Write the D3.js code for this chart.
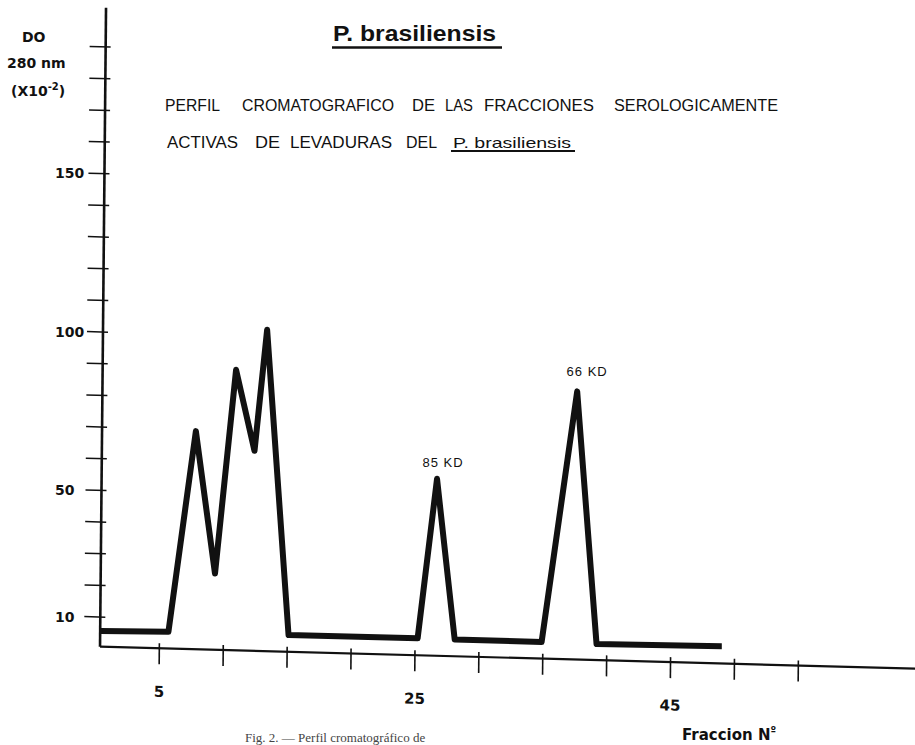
<!DOCTYPE html>
<html><head><meta charset="utf-8">
<script src="https://cdn.jsdelivr.net/npm/d3@7"></script>
<style>body{margin:0;background:#fff}svg{display:block}</style></head>
<body><svg id="c" width="915" height="745"></svg>
<script>
// ---- data ----
const fractions  = [0.4, 5.7, 7.7, 9.3, 10.8, 12.3, 13.2, 15.1, 25.2, 26.6, 28.1, 34.9, 37.5, 39.2, 49.0];
const absorbance = [5.6, 5.9, 69.5, 24.7, 89.2, 63.8, 102.1, 5.9, 6.0, 56.5, 5.9, 5.9, 85.3, 5.7, 6.1];
const xTicks = [5, 10, 15, 20, 25, 30, 35, 40, 45, 50, 55];
const xTickLabels = [5, 25, 45];
const yTicks = [10, 20, 30, 40, 50, 60, 70, 80, 90, 100, 110, 120, 130, 140, 150, 160, 170, 180, 190];
const yTickLabels = [10, 50, 100, 150];
const peakIdx = [9, 12];
const peakText = ["85 KD", "66 KD"];
const yTitle = ["DO", "280 nm"];
const subtitle1 = ["PERFIL", "CROMATOGRAFICO", "DE", "LAS", "FRACCIONES", "SEROLOGICAMENTE"];
const subtitle2 = ["ACTIVAS", "DE", "LEVADURAS", "DEL"];
const species = "P. brasiliensis";
const xTitle = "Fraccion N";

// ---- layout ----
const svg = d3.select("#c");
const ink = "#111";
const OX = 100, OY = 648.7, SKX = 0.027, SKY = -0.0094;
const proj = (X, Y) => [OX + X + SKY * Y, OY + SKX * X + Y];

const x = d3.scaleLinear().domain([0, 60]).range([-4.6, 762.2]);
const y = d3.scaleLinear().domain([0, 200]).range([0, -633.4]);

const g = svg.append("g").attr("transform", `matrix(1,${SKX},${SKY},1,${OX},${OY})`);

// x axis
const axY = -2;
g.append("line").attr("x1", 0).attr("y1", axY).attr("x2", 840).attr("y2", axY)
  .attr("stroke", ink).attr("stroke-width", 2.2);
g.selectAll(".xt").data(xTicks).join("line")
  .attr("x1", d => x(d)).attr("x2", d => x(d)).attr("y1", axY - 5).attr("y2", axY + 16)
  .attr("stroke", ink).attr("stroke-width", 1.6);
g.selectAll(".xl").data(xTickLabels).join("text")
  .attr("x", d => x(d)).attr("y", axY + 48.5)
  .attr("text-anchor", "middle").attr("font-family", "DejaVu Sans").attr("font-weight", "bold")
  .attr("font-size", 15).attr("fill", ink).text(d => d);

// y axis
g.append("line").attr("x1", 0).attr("y1", axY).attr("x2", 0).attr("y2", -641)
  .attr("stroke", ink).attr("stroke-width", 2.6);
g.selectAll(".yt").data(yTicks).join("line")
  .attr("x1", -16).attr("x2", 5).attr("y1", d => y(d)).attr("y2", d => y(d))
  .attr("stroke", ink).attr("stroke-width", 1.5);

// y labels (upright, left aligned)
svg.selectAll(".yl").data(yTickLabels).join("text")
  .attr("x", 55).attr("y", d => proj(0, y(d))[1] + 4.5)
  .attr("font-family", "DejaVu Sans").attr("font-weight", "bold").attr("font-size", 14)
  .attr("fill", ink).text(d => d);

// y title
const yt = svg.append("g").attr("font-family", "DejaVu Sans").attr("font-weight", "bold")
  .attr("font-size", 14).attr("fill", ink);
yt.append("text").attr("x", 22).attr("y", 42).text(yTitle[0]);
yt.append("text").attr("x", 7).attr("y", 68).text(yTitle[1]);
const t3 = yt.append("text").attr("x", 11).attr("y", 96);
t3.append("tspan").text("(X10");
t3.append("tspan").attr("font-size", 10).attr("dy", -6).text("-2");
t3.append("tspan").attr("dy", 6).text(")");

// data line
const pts = fractions.map((f, i) => ({ f, v: absorbance[i] }));
g.append("path").datum(pts)
  .attr("d", d3.line().x(d => x(d.f)).y(d => y(d.v)))
  .attr("fill", "none").attr("stroke", ink).attr("stroke-width", 6)
  .attr("stroke-linejoin", "round").attr("stroke-linecap", "butt");

// peak labels
const peakOff = [[6, -12], [10, -15.5]];
peakIdx.forEach((idx, k) => {
  const p = proj(x(pts[idx].f), y(pts[idx].v));
  svg.append("text").attr("x", p[0] + peakOff[k][0]).attr("y", p[1] + peakOff[k][1])
    .attr("text-anchor", "middle").attr("font-family", "Liberation Sans").attr("font-size", 13)
    .attr("letter-spacing", 1).attr("fill", ink).text(peakText[k]);
});

// title
svg.append("text").attr("x", 333).attr("y", 41).attr("font-family", "Liberation Sans")
  .attr("font-weight", "bold")
  .attr("font-size", 22).attr("textLength", 163).attr("lengthAdjust", "spacingAndGlyphs")
  .attr("fill", ink).text(species);
svg.append("line").attr("x1", 332).attr("x2", 502).attr("y1", 47.5).attr("y2", 47.5)
  .attr("stroke", ink).attr("stroke-width", 2.4);

// subtitle
const sub1X = [[165, 55], [242, 152], [412, 23], [445, 28], [484, 110], [614, 164]];
const sub2X = [[167, 71], [255, 25], [290, 102], [406, 31]];
const sf = { "font-family": "Liberation Sans", "font-size": 16, fill: ink };
subtitle1.forEach((w, i) => {
  const t = svg.append("text").attr("x", sub1X[i][0]).attr("y", 111)
    .attr("textLength", sub1X[i][1]).attr("lengthAdjust", "spacingAndGlyphs").text(w);
  Object.entries(sf).forEach(([k, v]) => t.attr(k, v));
});
subtitle2.forEach((w, i) => {
  const t = svg.append("text").attr("x", sub2X[i][0]).attr("y", 147.5)
    .attr("textLength", sub2X[i][1]).attr("lengthAdjust", "spacingAndGlyphs").text(w);
  Object.entries(sf).forEach(([k, v]) => t.attr(k, v));
});
svg.append("text").attr("x", 453).attr("y", 147.5).attr("font-family", "Liberation Sans")
  .attr("font-size", 15).attr("textLength", 118).attr("lengthAdjust", "spacingAndGlyphs")
  .attr("fill", ink).text(species);
svg.append("line").attr("x1", 451).attr("x2", 575).attr("y1", 151).attr("y2", 151)
  .attr("stroke", ink).attr("stroke-width", 2);

// x title
const xt = svg.append("text").attr("x", 682).attr("y", 740).attr("font-family", "DejaVu Sans")
  .attr("font-weight", "bold").attr("font-size", 15).attr("fill", ink);
xt.append("tspan").text(xTitle);
xt.append("tspan").attr("font-size", 10).attr("dy", -6).text("º");

// caption (at the bottom edge of the scan)
svg.append("text").attr("x", 245).attr("y", 742).attr("font-family", "Liberation Serif")
  .attr("font-size", 13).attr("fill", "#444").text("Fig. 2. — Perfil cromatográfico de");
</script></body></html>
